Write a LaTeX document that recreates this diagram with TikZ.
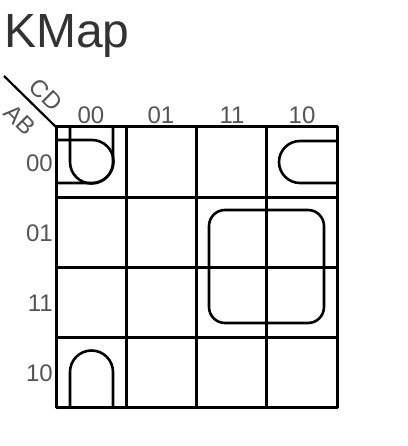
\documentclass[tikz,border=0pt]{standalone}
\usepackage{fontspec}
\setmainfont{Liberation Sans}
\definecolor{titlegray}{HTML}{333333}
\definecolor{labgray}{HTML}{555555}
\begin{document}
\begin{tikzpicture}[x=1pt,y=-1pt,line join=round]
\tikzset{
  gridline/.style={line width=3pt},
  looppath/.style={line width=2.6pt},
  lab/.style={font=\fontsize{24}{24}\selectfont, text=labgray, inner sep=0pt},
}
\useasboundingbox (0,0) rectangle (407,446);
\node[anchor=base west, inner sep=0pt, font=\fontsize{48}{48}\selectfont, text=titlegray] (title) at (4,48) {KMap};
% corner
\coordinate (diagA) at (4,76);
\coordinate (gridTL) at (56,127);
\draw[line width=2.2pt] (diagA) -- (gridTL);
\node[lab, rotate=-45] (cd) at (46,95) {CD};
\node[lab, rotate=-45] (ab) at (20,120) {AB};
% column labels
\node[lab, anchor=base] (c00) at (91,124) {00};
\node[lab, anchor=base] (c01) at (161,124) {01};
\node[lab, anchor=base] (c11) at (232,124) {11};
\node[lab, anchor=base] (c10) at (302,124) {10};
% row labels
\node[lab, anchor=east] (r00) at (53,163) {00};
\node[lab, anchor=east] (r01) at (53,233) {01};
\node[lab, anchor=east] (r11) at (53,303) {11};
\node[lab, anchor=east] (r10) at (53,373) {10};
% grid
\draw[gridline] (56,127) rectangle (337,407);
\draw[gridline] (126.25,127) -- (126.25,407);
\draw[gridline] (196.5,127) -- (196.5,407);
\draw[gridline] (266.75,127) -- (266.75,407);
\draw[gridline] (56,197) -- (337,197);
\draw[gridline] (56,267) -- (337,267);
\draw[gridline] (56,337) -- (337,337);
% loops
\draw[looppath] (70,127) -- (70,162) arc[start angle=180, end angle=0, radius=21.5] -- (113,127);
\draw[looppath] (56,140) -- (92,140) arc[start angle=-90, end angle=90, radius=21.5] -- (56,183);
\draw[looppath] (337,141) -- (300,141) arc[start angle=-90, end angle=-270, radius=21] -- (337,183);
\draw[looppath] (70,407) -- (70,372) arc[start angle=180, end angle=360, radius=21.5] -- (113,407);
\draw[looppath, rounded corners=16pt] (209,210) rectangle (324,323);
\end{tikzpicture}
\end{document}
